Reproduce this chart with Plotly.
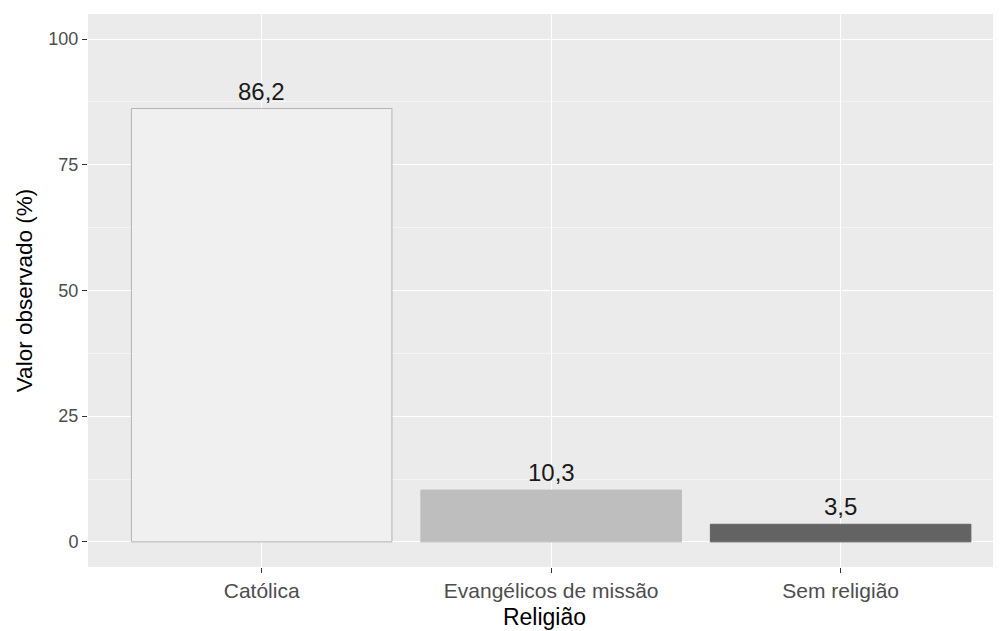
import plotly.graph_objects as go

categorias = ["Católica", "Evangélicos de missão", "Sem religião"]
valores = [86.2, 10.3, 3.5]
rotulos = ["86,2", "10,3", "3,5"]
y_ticks = [0, 25, 50, 75, 100]

cores = ["#F0F0F0", "#BEBEBE", "#636363"]
contornos = ["#B4B4B4", "#BEBEBE", "#636363"]

FONT = "Liberation Sans, Arial, sans-serif"

fig = go.Figure()
fig.add_trace(go.Bar(
    x=categorias, y=valores, width=0.9,
    marker=dict(color=cores, line=dict(color=contornos, width=1)),
    hoverinfo="skip", showlegend=False,
))

for c, v, t in zip(categorias, valores, rotulos):
    fig.add_annotation(x=c, y=v, text=t, showarrow=False, yanchor="bottom",
                       yshift=2, font=dict(family=FONT, size=24, color="#1A1A1A"))

# page body has an 8px margin, so the figure is sized/offset to compensate
fig.update_layout(
    width=993, height=623,
    margin=dict(l=80, r=0, t=6, b=64),
    paper_bgcolor="white", plot_bgcolor="#EBEBEB",
    font=dict(family=FONT),
    bargap=0.1,
)
fig.update_xaxes(
    range=[-0.6, 2.554], showgrid=True, gridcolor="white", gridwidth=1.2,
    ticks="outside", ticklen=5, tickcolor="#333333", tickwidth=1,
    tickfont=dict(family=FONT, size=21, color="#4D4D4D"),
    title=dict(text="Religião", font=dict(family=FONT, size=23, color="#000000"), standoff=7),
    zeroline=False, showline=False, automargin=False,
)
fig.update_yaxes(
    range=[-5, 105], tickvals=y_ticks, ticktext=[str(v) for v in y_ticks],
    showgrid=True, gridcolor="white", gridwidth=1.2,
    minor=dict(tickvals=[12.5, 37.5, 62.5, 87.5], showgrid=True, gridcolor="#F5F5F5", gridwidth=0.6, ticks=""),
    ticks="outside", ticklen=5, tickcolor="#333333", tickwidth=1,
    tickfont=dict(family=FONT, size=18, color="#4D4D4D"),
    title=dict(text="Valor observado (%)", font=dict(family=FONT, size=22.5, color="#000000"), standoff=9),
    zeroline=False, showline=False, automargin=False,
)

fig.write_html("out.html")
